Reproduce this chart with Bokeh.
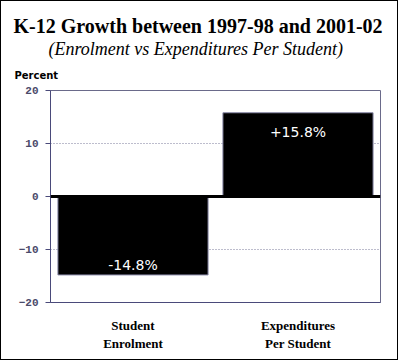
from bokeh.plotting import figure
from bokeh.models import ColumnDataSource, FactorRange, Range1d, Title, FixedTicker, Span, LabelSet
from bokeh.core.properties import value
from bokeh.embed import file_html
from bokeh.resources import INLINE

categories = ["Student\nEnrolment", "Expenditures\nPer Student"]
values = [-14.8, 15.8]
value_labels = ["-14.8%", "+15.8%"]
y_ticks = [-20, -10, 0, 10, 20]

label_y = [v + 1.8 if v < 0 else v - 3.6 for v in values]
src = ColumnDataSource(dict(cat=categories, val=values, lab=value_labels, ly=label_y))

p = figure(width=398, height=360, x_range=FactorRange(*categories, range_padding=0),
           y_range=Range1d(-20, 20), output_backend="svg", toolbar_location=None,
           min_border_left=49, min_border_right=19, min_border_bottom=59, min_border_top=89)
p.styles = {"border": "1px solid black"}

p.vbar(x="cat", top="val", bottom=0, width=0.91, source=src,
       fill_color="black", line_color="#8a8aa8", line_width=1)

p.add_layout(LabelSet(x="cat", y="ly", text="lab", source=src, text_color="white",
                      text_font=value("DejaVu Sans"), text_font_size="14px",
                      text_align="center", text_baseline="middle"))

p.add_layout(Span(location=0, dimension="width", line_color="black", line_width=3))

p.xgrid.grid_line_color = None
p.ygrid.ticker = FixedTicker(ticks=[-10, 10])
p.ygrid.grid_line_color = "#7a7a9a"
p.ygrid.grid_line_dash = "1 2"

p.yaxis.ticker = FixedTicker(ticks=y_ticks)
p.yaxis.major_label_text_font = "Liberation Mono"
p.yaxis.major_label_text_font_style = "bold"
p.yaxis.major_label_text_font_size = "11px"
p.yaxis.major_label_text_color = "#4a4a6a"
p.yaxis.axis_line_color = "#4a4a7a"
p.yaxis.major_tick_line_color = "#4a4a7a"
p.yaxis.major_tick_out = 5
p.yaxis.major_tick_in = 0
p.yaxis.minor_tick_line_color = None
p.yaxis.major_label_standoff = 7

p.xaxis.axis_line_color = "#4a4a7a"
p.xaxis.major_tick_line_color = None
p.xaxis.minor_tick_line_color = None
p.xaxis.major_label_text_font = "Liberation Serif"
p.xaxis.major_label_text_font_style = "bold"
p.xaxis.major_label_text_font_size = "13px"
p.xaxis.major_label_text_color = "black"
p.xaxis.major_label_text_line_height = 1.2
p.xaxis.major_label_standoff = 9

p.outline_line_color = "#6a6a8a"
p.outline_line_width = 1

p.add_layout(Title(text="Percent", align="left", offset=-36, text_font="DejaVu Sans",
                   text_font_style="bold", text_font_size="10px", text_color="black",
                   standoff=19), "above")
p.add_layout(Title(text="(Enrolment vs Expenditures Per Student)", align="left", offset=-2,
                   text_font="Liberation Serif", text_font_style="italic",
                   text_font_size="18px", text_color="black", standoff=0), "above")
p.add_layout(Title(text="K-12 Growth between 1997-98 and 2001-02", align="left", offset=-37,
                   text_font="Liberation Serif", text_font_style="bold",
                   text_font_size="20px", text_color="black", standoff=0), "above")

open("out.html", "w").write(file_html(p, INLINE))
